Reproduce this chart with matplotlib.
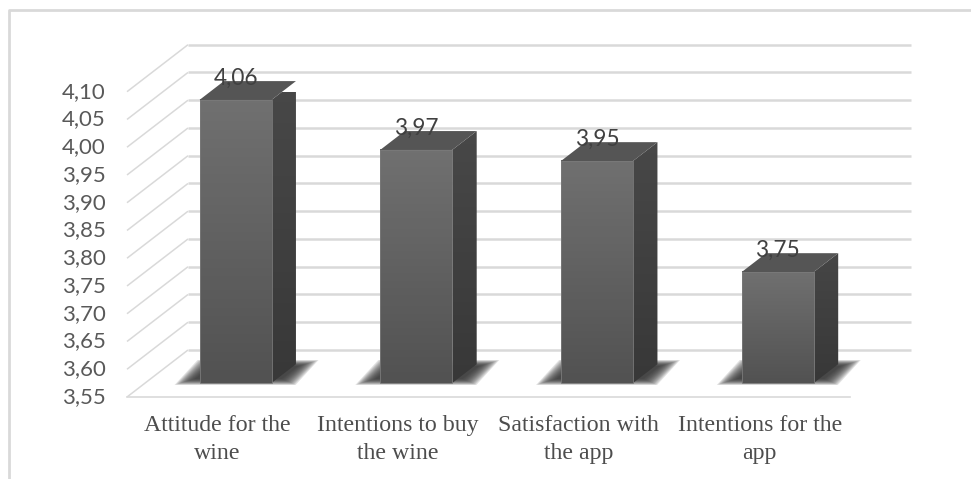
import numpy as np
import matplotlib
matplotlib.use("Agg")
import matplotlib.pyplot as plt
from matplotlib.transforms import Affine2D
from matplotlib.patches import Polygon, Rectangle
from matplotlib.colors import LinearSegmentedColormap

categories = ["Attitude for the\nwine", "Intentions to buy\nthe wine",
              "Satisfaction with\nthe app", "Intentions for the\napp"]
values = [4.06, 3.97, 3.95, 3.75]
value_labels = ["4,06", "3,97", "3,95", "3,75"]
ticks = [3.55, 3.60, 3.65, 3.70, 3.75, 3.80, 3.85, 3.90, 3.95, 4.00, 4.05, 4.10]
tick_labels = ["3,55", "3,60", "3,65", "3,70", "3,75", "3,80", "3,85", "3,90",
               "3,95", "4,00", "4,05", "4,10"]

W, H = 971, 479
fig = plt.figure(figsize=(W / 100, H / 100), dpi=100, facecolor="white")
X0, X1, YB, YT = 127, 850, 397, 91.7
ax = fig.add_axes([X0 / W, 1 - YB / H, (X1 - X0) / W, (YB - YT) / H])
ax.set_axis_off()
ax.set_xlim(0, len(categories))
ax.set_ylim(ticks[0], ticks[-1])

# frame
LINE = "#d9d9d9"
fig.add_artist(plt.Line2D([8.5 / W, 8.5 / W, 1], [0, 1 - 10 / H, 1 - 10 / H],
                          color=LINE, lw=2.0, transform=fig.transFigure))

DX, DY = 61, 47
def depth(t):
    return ax.transData + Affine2D().translate(DX * t, DY * t)

# gridlines: side wall and back wall
back = depth(1)
for v in ticks:
    x0_disp = ax.transData.transform((0, v))
    ax.plot([x0_disp[0], x0_disp[0] + DX], [x0_disp[1], x0_disp[1] + DY], color=LINE, lw=1.1,
            transform=Affine2D(), clip_on=False, zorder=1, solid_capstyle="butt")
    ax.plot([0, len(categories)], [v, v], color=LINE, lw=1.8, transform=back, clip_on=False, zorder=1,
            solid_capstyle="butt")
ax.plot([0, len(categories)], [ticks[0], ticks[0]], color=LINE, lw=1.2, clip_on=False, zorder=1)

vgrad = np.linspace(0, 1, 64)[:, None]
front_cm = LinearSegmentedColormap.from_list("f", ["#707070", "#525252"])
side_cm = LinearSegmentedColormap.from_list("s", ["#4a4a4a", "#383838"])

BW = 72 / ((X1 - X0) / len(categories))
ft = 14 / DY            # depth of the bars' front face
bt = 18.8 / DY          # depth of the bars themselves

def to_px(tr, x, y):
    return tr.transform((x, y))

for i, (v, lab) in enumerate(zip(values, value_labels)):
    xl, xr = i + 0.5 - BW / 2, i + 0.5 + BW / 2
    tf = depth(ft)
    tb = depth(ft + bt)
    # soft floor shadow
    a = to_px(tf, xl, ticks[0])
    b = to_px(tf, xr, ticks[0])
    outer = np.array([(a[0] - 25, a[1] - 2), (b[0] + 24, b[1] - 2),
                      (b[0] + 47, b[1] + 23), (a[0] - 2, a[1] + 23)])
    centre = outer.mean(axis=0)
    for s in np.linspace(1.0, 0.72, 14):
        ax.add_patch(Polygon(centre + (outer - centre) * [s, s * s], closed=True, transform=Affine2D(),
                             fc="#333333", ec="none", alpha=0.14, zorder=2, clip_on=False))
    # side face
    p = [to_px(tf, xr, ticks[0]), to_px(tb, xr, ticks[0]), to_px(tb, xr, v), to_px(tf, xr, v)]
    side = ax.imshow(vgrad, cmap=side_cm, aspect="auto", extent=(xr, xr + 30 / (X1 - X0) * 4, ticks[0], v + 0.1),
                     transform=depth(ft), zorder=3, clip_on=True)
    side.set_clip_path(Polygon(p, closed=True, transform=Affine2D()))
    # front face
    ax.imshow(vgrad, cmap=front_cm, aspect="auto", extent=(xl, xr, ticks[0], v),
              transform=depth(ft), zorder=4, clip_on=False)
    ax.add_patch(Rectangle((xl, ticks[0]), xr - xl, v - ticks[0], transform=depth(ft),
                           fc="none", ec="#7a7a7a", lw=0.6, zorder=5, clip_on=False))
    # top face
    top = [to_px(tf, xl, v), to_px(tf, xr, v), to_px(tb, xr, v), to_px(tb, xl, v)]
    ax.add_patch(Polygon(top, closed=True, transform=Affine2D(), fc="#555555", ec="none",
                         zorder=5, clip_on=False))
    # value label
    ax.annotate(lab, xy=((i + 0.5), v), xycoords=depth(ft), xytext=(0, 11), textcoords="offset pixels",
                ha="center", va="bottom", fontsize=16.3, family="Lato", color="#404040", zorder=6)

ax.set_xlim(0, len(categories))
ax.set_ylim(ticks[0], ticks[-1])

for v, lab in zip(ticks, tick_labels):
    ax.annotate(lab, xy=(0, v), xycoords="data", xytext=(-21, 0), textcoords="offset pixels",
                ha="right", va="center", fontsize=16, family="Lato", color="#595959")

for i, c in enumerate(categories):
    ax.annotate(c, xy=(i + 0.5, ticks[0]), xycoords="data", xytext=(0, -18), textcoords="offset pixels",
                ha="center", va="top", fontsize=17.2, family="Liberation Serif", color="#4d4d4d",
                linespacing=1.42)

fig.savefig("out.png", dpi=100)
